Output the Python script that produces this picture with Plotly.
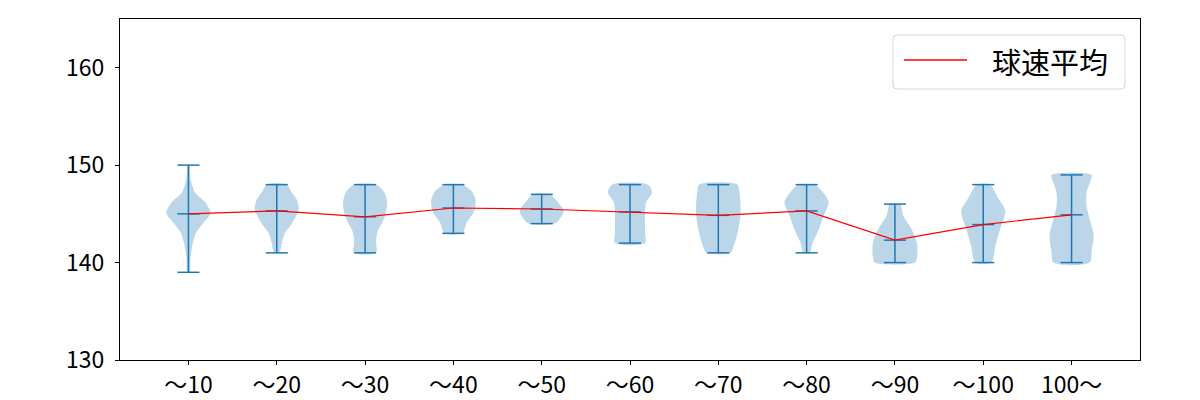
import plotly.graph_objects as go

categories = ["〜10", "〜20", "〜30", "〜40", "〜50", "〜60", "〜70", "〜80", "〜90", "〜100", "100〜"]
v_min = [139, 141, 141, 143, 144, 142, 141, 141, 140, 140, 140]
v_max = [150, 148, 148, 148, 147, 148, 148, 148, 146, 148, 149]
v_mean = [145.0, 145.3, 144.7, 145.6, 145.5, 145.2, 144.85, 145.3, 142.3, 143.9, 144.9]
legend_label = "球速平均"

# violin outline profile: speed values and relative density (1 = widest)
profile_values = [
    [139, 140.4, 141.8, 143.1, 144.1, 145.1, 146.2, 147.2, 148.5, 150],
    [141, 142, 143, 144, 145.5, 146.5, 147.2, 148],
    [141, 142, 142.7, 143.4, 144.2, 145, 146.2, 147.3, 148],
    [143, 144.1, 145.3, 146.5, 147.4, 148],
    [144, 144.5, 145.3, 146.1, 147],
    [142, 143, 143.8, 145.2, 146.2, 147.2, 148],
    [141, 141.7, 143.1, 144.8, 146.2, 147.3, 148],
    [141, 142, 143.4, 144.8, 146.2, 147.2, 148],
    [140, 140.6, 142, 143.4, 144.8, 146],
    [140, 141.7, 143.4, 145.3, 146.6, 148],
    [140, 141.2, 142.8, 144.5, 145.8, 147.2, 148.4, 149],
]
profile_density = [
    [0.05, 0.09, 0.18, 0.36, 0.68, 1.0, 0.76, 0.30, 0.10, 0.04],
    [0.12, 0.23, 0.36, 0.68, 1.0, 0.9, 0.68, 0.45],
    [0.5, 0.5, 0.52, 0.6, 0.8, 0.93, 1.0, 0.85, 0.5],
    [0.4, 0.6, 0.95, 1.0, 0.8, 0.4],
    [0.6, 0.82, 1.0, 0.77, 0.36],
    [0.68, 0.68, 0.68, 0.68, 0.73, 1.0, 0.82],
    [0.55, 0.7, 0.88, 1.0, 1.0, 0.95, 0.88],
    [0.14, 0.27, 0.55, 0.77, 1.0, 0.75, 0.36],
    [0.91, 1.0, 1.0, 0.76, 0.38, 0.23],
    [0.36, 0.55, 0.76, 1.0, 0.68, 0.3],
    [0.82, 0.91, 1.0, 0.82, 0.68, 0.68, 0.86, 0.91],
]

BLUE = "#1f77b4"
HALF = 0.25   # half of violin width
CAP = 0.125
FONT = "Noto Sans CJK JP"

# plot area in pixels
W, H = 1200, 400
ML, MR, MT, MB = 120, 60, 19, 40
PW, PH = W - ML - MR, H - MT - MB


def px(x):
    return (x - ML) / PW


def py(y):
    return (H - MB - y) / PH


fig = go.Figure()
positions = list(range(1, len(categories) + 1))

for pos, vals, dens in zip(positions, profile_values, profile_density):
    xs = [pos + d * HALF for d in dens] + [pos - d * HALF for d in reversed(dens)]
    ys = list(vals) + list(reversed(vals))
    xs.append(xs[0]); ys.append(ys[0])
    fig.add_trace(go.Scatter(
        x=xs, y=ys, mode="lines", fill="toself",
        fillcolor="rgba(31,119,180,0.3)",
        line=dict(width=0, shape="spline", smoothing=0.8),
        showlegend=False, hoverinfo="skip"))

# stems and caps
lx, ly = [], []
for pos, lo, hi, mu in zip(positions, v_min, v_max, v_mean):
    lx += [pos, pos, None]
    ly += [lo, hi, None]
    for v in (lo, hi, mu):
        lx += [pos - CAP, pos + CAP, None]
        ly += [v, v, None]
fig.add_trace(go.Scatter(x=lx, y=ly, mode="lines", line=dict(color=BLUE, width=1.5),
                         showlegend=False, hoverinfo="skip"))

fig.add_trace(go.Scatter(x=positions, y=v_mean, mode="lines", name=legend_label,
                         line=dict(color="red", width=1.2), showlegend=False))

# legend box drawn manually (rounded frame, line sample, label)
bx0, bx1, by0, by1 = 893, 1125, 35, 89
r = 4
rx, ry = r / PW, r / PH
x0, x1, y0, y1 = px(bx0), px(bx1), py(by1), py(by0)
path = (f"M{x0+rx},{y1} L{x1-rx},{y1} Q{x1},{y1} {x1},{y1-ry} "
        f"L{x1},{y0+ry} Q{x1},{y0} {x1-rx},{y0} L{x0+rx},{y0} "
        f"Q{x0},{y0} {x0},{y0+ry} L{x0},{y1-ry} Q{x0},{y1} {x0+rx},{y1} Z")
fig.add_shape(type="path", path=path, xref="paper", yref="paper",
              line=dict(color="#d4d4d4", width=1), fillcolor="rgba(255,255,255,0.8)")
fig.add_shape(type="line", xref="paper", yref="paper",
              x0=px(904), x1=px(967), y0=py(60), y1=py(60),
              line=dict(color="red", width=1.5))
fig.add_annotation(text=legend_label, xref="paper", yref="paper",
                   x=px(990), y=py(61), xanchor="left", yanchor="middle",
                   showarrow=False, font=dict(family=FONT, size=29, color="black"))

fig.update_layout(
    width=W, height=H,
    margin=dict(l=ML, r=MR, t=MT, b=MB),
    paper_bgcolor="white", plot_bgcolor="white",
    font=dict(family=FONT, size=23, color="black"),
    showlegend=False,
    xaxis=dict(range=[0.225, 11.775], tickvals=positions, ticktext=categories,
               showgrid=False, zeroline=False, showline=True, linecolor="black",
               mirror=True, ticks="outside", ticklen=4, tickcolor="black",
               automargin=False),
    yaxis=dict(range=[130, 165], tickvals=[130, 140, 150, 160],
               showgrid=False, zeroline=False, showline=True, linecolor="black",
               mirror=True, ticks="outside", ticklen=4, tickcolor="black",
               ticklabelstandoff=6, automargin=False),
)

fig.write_html("out.html")
